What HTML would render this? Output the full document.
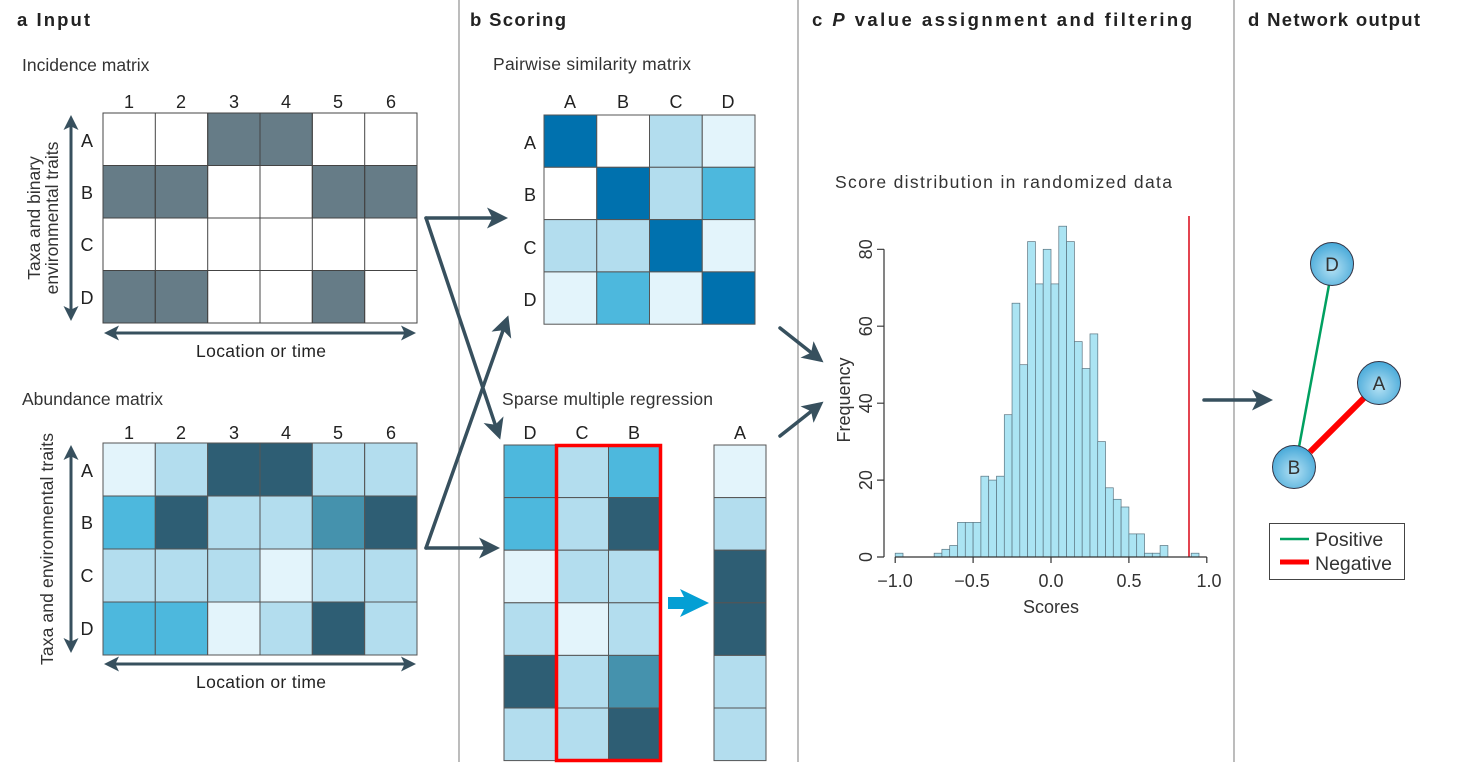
<!DOCTYPE html>
<html><head><meta charset="utf-8"><style>
html,body{margin:0;padding:0;background:#fff}
svg{display:block;font-family:"Liberation Sans",sans-serif}
</style></head><body>
<svg width="1470" height="782" viewBox="0 0 1470 782" xmlns="http://www.w3.org/2000/svg">
<defs>
<marker id="ah" markerWidth="6" markerHeight="6" refX="4" refY="3" orient="auto" markerUnits="strokeWidth"><path d="M0,0 L6,3 L0,6 L1.5,3 z" fill="#37505e"/></marker>
<marker id="ah2" markerWidth="5" markerHeight="5" refX="3" refY="2.5" orient="auto-start-reverse" markerUnits="strokeWidth"><path d="M0,0 L5,2.5 L0,5 L1.2,2.5 z" fill="#37505e"/></marker>
<radialGradient id="nd" cx="0.5" cy="0.6" r="0.6"><stop offset="0" stop-color="#b4e1f4"/><stop offset="1" stop-color="#45a8d8"/></radialGradient>
</defs>
<g stroke="#999" stroke-width="1.3"><line x1="459" y1="0" x2="459" y2="762"/><line x1="798" y1="0" x2="798" y2="762"/><line x1="1234" y1="0" x2="1234" y2="762"/></g>
<g font-weight="bold" font-size="18.5" fill="#222">
<text x="17" y="26" textLength="73">a  Input</text><text x="470" y="26" textLength="96">b  Scoring</text>
<text x="812" y="26" textLength="380">c  <tspan font-style="italic">P</tspan> value assignment and filtering</text>
<text x="1248" y="26" textLength="172">d  Network output</text></g>
<g font-size="17.5" fill="#333">
<text x="22" y="71">Incidence matrix</text><text x="22" y="405">Abundance matrix</text>
<text x="493" y="70" textLength="198">Pairwise similarity matrix</text><text x="502" y="405" textLength="211">Sparse multiple regression</text>
<text x="835" y="188" textLength="337">Score distribution in randomized data</text>
</g>
<g stroke="#444" stroke-width="1">
<rect x="103" y="113" width="314" height="210" fill="#fff"/>
<g fill="#667c87">
<rect x="207.7" y="113" width="52.3" height="52.5"/><rect x="260" y="113" width="52.3" height="52.5"/>
<rect x="103" y="165.5" width="52.3" height="52.5"/><rect x="155.3" y="165.5" width="52.3" height="52.5"/><rect x="312.3" y="165.5" width="52.3" height="52.5"/><rect x="364.7" y="165.5" width="52.3" height="52.5"/>
<rect x="103" y="270.5" width="52.3" height="52.5"/><rect x="155.3" y="270.5" width="52.3" height="52.5"/><rect x="312.3" y="270.5" width="52.3" height="52.5"/>
</g>
<path d="M155.3,113V323M207.7,113V323M260,113V323M312.3,113V323M364.7,113V323M103,165.5H417M103,218H417M103,270.5H417" fill="none"/>
</g>
<g font-size="18" fill="#222" text-anchor="middle">
<text x="129" y="108">1</text><text x="181" y="108">2</text><text x="234" y="108">3</text><text x="286" y="108">4</text><text x="338" y="108">5</text><text x="391" y="108">6</text>
<text x="87" y="147">A</text><text x="87" y="199">B</text><text x="87" y="251">C</text><text x="87" y="304">D</text>
<text x="129" y="439">1</text><text x="181" y="439">2</text><text x="234" y="439">3</text><text x="286" y="439">4</text><text x="338" y="439">5</text><text x="391" y="439">6</text>
<text x="87" y="477">A</text><text x="87" y="529">B</text><text x="87" y="582">C</text><text x="87" y="635">D</text>
<text x="570" y="108">A</text><text x="623" y="108">B</text><text x="676" y="108">C</text><text x="728" y="108">D</text>
<text x="530" y="149">A</text><text x="530" y="201">B</text><text x="530" y="254">C</text><text x="530" y="306">D</text>
<text x="530" y="439">D</text><text x="582" y="439">C</text><text x="634" y="439">B</text><text x="740" y="439">A</text>
<text x="261" y="357" font-size="17.5" textLength="130">Location or time</text><text x="261" y="688" font-size="17.5" textLength="130">Location or time</text>
</g>
<g font-size="17.5" fill="#333" text-anchor="middle">
<text transform="translate(40,218) rotate(-90)">Taxa and binary</text>
<text transform="translate(58,218) rotate(-90)">environmental traits</text>
<text transform="translate(53,549) rotate(-90)" textLength="232">Taxa and environmental traits</text>
</g>
<g stroke="#37505e" stroke-width="3" fill="none">
<line x1="71" y1="121" x2="71" y2="315" marker-start="url(#ah2)" marker-end="url(#ah2)"/>
<line x1="110" y1="333" x2="410" y2="333" marker-start="url(#ah2)" marker-end="url(#ah2)"/>
<line x1="71" y1="451" x2="71" y2="647" marker-start="url(#ah2)" marker-end="url(#ah2)"/>
<line x1="110" y1="664" x2="410" y2="664" marker-start="url(#ah2)" marker-end="url(#ah2)"/>
</g>
<g stroke="#555" stroke-width="1">
<rect x="103" y="443" width="52.3" height="53" fill="#e3f4fb"/><rect x="155.3" y="443" width="52.3" height="53" fill="#b3ddee"/><rect x="207.7" y="443" width="52.3" height="53" fill="#2e5e74"/><rect x="260" y="443" width="52.3" height="53" fill="#2e5e74"/><rect x="312.3" y="443" width="52.3" height="53" fill="#b3ddee"/><rect x="364.7" y="443" width="52.3" height="53" fill="#b3ddee"/>
<rect x="103" y="496" width="52.3" height="53" fill="#4db8dd"/><rect x="155.3" y="496" width="52.3" height="53" fill="#2e5e74"/><rect x="207.7" y="496" width="52.3" height="53" fill="#b3ddee"/><rect x="260" y="496" width="52.3" height="53" fill="#b3ddee"/><rect x="312.3" y="496" width="52.3" height="53" fill="#4592ad"/><rect x="364.7" y="496" width="52.3" height="53" fill="#2e5e74"/>
<rect x="103" y="549" width="52.3" height="53" fill="#b3ddee"/><rect x="155.3" y="549" width="52.3" height="53" fill="#b3ddee"/><rect x="207.7" y="549" width="52.3" height="53" fill="#b3ddee"/><rect x="260" y="549" width="52.3" height="53" fill="#e3f4fb"/><rect x="312.3" y="549" width="52.3" height="53" fill="#b3ddee"/><rect x="364.7" y="549" width="52.3" height="53" fill="#b3ddee"/>
<rect x="103" y="602" width="52.3" height="53" fill="#4db8dd"/><rect x="155.3" y="602" width="52.3" height="53" fill="#4db8dd"/><rect x="207.7" y="602" width="52.3" height="53" fill="#e3f4fb"/><rect x="260" y="602" width="52.3" height="53" fill="#b3ddee"/><rect x="312.3" y="602" width="52.3" height="53" fill="#2e5e74"/><rect x="364.7" y="602" width="52.3" height="53" fill="#b3ddee"/>
</g>
<g stroke="#555" stroke-width="1">
<rect x="544" y="115" width="52.75" height="52.3" fill="#0071ae"/><rect x="596.75" y="115" width="52.75" height="52.3" fill="#fff"/><rect x="649.5" y="115" width="52.75" height="52.3" fill="#b3ddee"/><rect x="702.25" y="115" width="52.75" height="52.3" fill="#e3f4fb"/>
<rect x="544" y="167.3" width="52.75" height="52.3" fill="#fff"/><rect x="596.75" y="167.3" width="52.75" height="52.3" fill="#0071ae"/><rect x="649.5" y="167.3" width="52.75" height="52.3" fill="#b3ddee"/><rect x="702.25" y="167.3" width="52.75" height="52.3" fill="#4db8dd"/>
<rect x="544" y="219.6" width="52.75" height="52.3" fill="#b3ddee"/><rect x="596.75" y="219.6" width="52.75" height="52.3" fill="#b3ddee"/><rect x="649.5" y="219.6" width="52.75" height="52.3" fill="#0071ae"/><rect x="702.25" y="219.6" width="52.75" height="52.3" fill="#e3f4fb"/>
<rect x="544" y="271.9" width="52.75" height="52.3" fill="#e3f4fb"/><rect x="596.75" y="271.9" width="52.75" height="52.3" fill="#4db8dd"/><rect x="649.5" y="271.9" width="52.75" height="52.3" fill="#e3f4fb"/><rect x="702.25" y="271.9" width="52.75" height="52.3" fill="#0071ae"/>
</g>
<g stroke="#555" stroke-width="1">
<rect x="504" y="445" width="51.5" height="52.6" fill="#4db8dd"/><rect x="504" y="497.6" width="51.5" height="52.6" fill="#4db8dd"/><rect x="504" y="550.2" width="51.5" height="52.6" fill="#e3f4fb"/><rect x="504" y="602.8" width="51.5" height="52.6" fill="#b3ddee"/><rect x="504" y="655.4" width="51.5" height="52.6" fill="#2e5e74"/><rect x="504" y="708" width="51.5" height="52.6" fill="#b3ddee"/>
<rect x="555.5" y="445" width="53" height="52.6" fill="#b3ddee"/><rect x="555.5" y="497.6" width="53" height="52.6" fill="#b3ddee"/><rect x="555.5" y="550.2" width="53" height="52.6" fill="#b3ddee"/><rect x="555.5" y="602.8" width="53" height="52.6" fill="#e3f4fb"/><rect x="555.5" y="655.4" width="53" height="52.6" fill="#b3ddee"/><rect x="555.5" y="708" width="53" height="52.6" fill="#b3ddee"/>
<rect x="608.5" y="445" width="52" height="52.6" fill="#4db8dd"/><rect x="608.5" y="497.6" width="52" height="52.6" fill="#2e5e74"/><rect x="608.5" y="550.2" width="52" height="52.6" fill="#b3ddee"/><rect x="608.5" y="602.8" width="52" height="52.6" fill="#b3ddee"/><rect x="608.5" y="655.4" width="52" height="52.6" fill="#4592ad"/><rect x="608.5" y="708" width="52" height="52.6" fill="#2e5e74"/>
<rect x="714" y="445" width="52" height="52.6" fill="#e3f4fb"/><rect x="714" y="497.6" width="52" height="52.6" fill="#b3ddee"/><rect x="714" y="550.2" width="52" height="52.6" fill="#2e5e74"/><rect x="714" y="602.8" width="52" height="52.6" fill="#2e5e74"/><rect x="714" y="655.4" width="52" height="52.6" fill="#b3ddee"/><rect x="714" y="708" width="52" height="52.6" fill="#b3ddee"/>
</g>
<rect x="556.5" y="445.5" width="104" height="315" fill="none" stroke="#f00" stroke-width="3.5"/>
<path d="M668,597 L684,597 L680,589 L709,603 L680,617 L684,609 L668,609 Z" fill="#049fd4"/>
<g stroke="#37505e" stroke-width="3.5" fill="none" stroke-linecap="round">
<polyline points="426,218 501,218" marker-end="url(#ah)"/>
<line x1="426" y1="218" x2="498" y2="433" marker-end="url(#ah)"/>
<line x1="426" y1="548" x2="506" y2="322" marker-end="url(#ah)"/>
<line x1="426" y1="548" x2="493" y2="548" marker-end="url(#ah)"/>
<line x1="780" y1="328" x2="818" y2="358" marker-end="url(#ah)"/>
<line x1="780" y1="436" x2="818" y2="406" marker-end="url(#ah)"/>
<line x1="1204" y1="400" x2="1266" y2="400" marker-end="url(#ah)"/>
</g>
<g fill="#abe4f3" stroke="#5a7480" stroke-width="0.7">
<rect x="895.2" y="553.2" width="7.8" height="3.8"/>
<rect x="934.15" y="553.2" width="7.8" height="3.8"/>
<rect x="941.9" y="549.3" width="7.8" height="7.7"/>
<rect x="949.7" y="545.5" width="7.8" height="11.5"/>
<rect x="957.5" y="522.4" width="7.8" height="34.6"/>
<rect x="965.3" y="522.4" width="7.8" height="34.6"/>
<rect x="973.1" y="522.4" width="7.8" height="34.6"/>
<rect x="980.9" y="476.2" width="7.8" height="80.8"/>
<rect x="988.7" y="480.1" width="7.8" height="76.9"/>
<rect x="996.5" y="476.2" width="7.8" height="80.8"/>
<rect x="1004.3" y="414.7" width="7.8" height="142.3"/>
<rect x="1012.05" y="303.2" width="7.8" height="253.8"/>
<rect x="1019.8" y="364.7" width="7.8" height="192.3"/>
<rect x="1027.6" y="241.6" width="7.8" height="315.4"/>
<rect x="1035.4" y="283.9" width="7.8" height="273.1"/>
<rect x="1043.2" y="249.3" width="7.8" height="307.7"/>
<rect x="1051" y="283.9" width="7.8" height="273.1"/>
<rect x="1058.8" y="226.2" width="7.8" height="330.8"/>
<rect x="1066.6" y="241.6" width="7.8" height="315.4"/>
<rect x="1074.4" y="341.6" width="7.8" height="215.4"/>
<rect x="1082.2" y="368.5" width="7.8" height="188.5"/>
<rect x="1090" y="333.9" width="7.8" height="223.1"/>
<rect x="1097.7" y="441.6" width="7.8" height="115.4"/>
<rect x="1105.5" y="487.8" width="7.8" height="69.2"/>
<rect x="1113.3" y="499.3" width="7.8" height="57.7"/>
<rect x="1121.1" y="507" width="7.8" height="50"/>
<rect x="1128.9" y="533.9" width="7.8" height="23.1"/>
<rect x="1136.7" y="533.9" width="7.8" height="23.1"/>
<rect x="1144.5" y="553.2" width="7.8" height="3.8"/>
<rect x="1152.3" y="553.2" width="7.8" height="3.8"/>
<rect x="1160.1" y="545.5" width="7.8" height="11.5"/>
<rect x="1191.2" y="553.2" width="7.8" height="3.8"/>
</g>
<line x1="1189" y1="216" x2="1189" y2="557" stroke="#e0303c" stroke-width="1.8"/>
<g stroke="#333" stroke-width="1.2" fill="none">
<path d="M884,249.3V557M877,557H884M877,480.1H884M877,403.2H884M877,326.2H884M877,249.3H884"/>
<path d="M895.2,557H1206.8M895.2,557V563M973.1,557V563M1051,557V563M1128.9,557V563M1206.8,557V563"/>
</g>
<g font-size="18" fill="#333" text-anchor="middle">
<text transform="translate(872,557) rotate(-90)">0</text>
<text transform="translate(872,480.1) rotate(-90)">20</text>
<text transform="translate(872,403.2) rotate(-90)">40</text>
<text transform="translate(872,326.2) rotate(-90)">60</text>
<text transform="translate(872,249.3) rotate(-90)">80</text>
<text transform="translate(850,400) rotate(-90)">Frequency</text>
<text x="895" y="587">−1.0</text><text x="972" y="587">−0.5</text><text x="1051" y="587">0.0</text><text x="1129" y="587">0.5</text><text x="1209" y="587">1.0</text>
<text x="1051" y="613">Scores</text>
</g>
<line x1="1329" y1="285" x2="1299" y2="447" stroke="#00a060" stroke-width="2.5"/>
<line x1="1364" y1="398" x2="1310" y2="452" stroke="#f00" stroke-width="6"/>
<g stroke="#334" stroke-width="1" fill="url(#nd)">
<circle cx="1332" cy="264" r="21.5"/><circle cx="1379" cy="383" r="21.5"/><circle cx="1294" cy="467" r="21.5"/></g>
<g font-size="19" fill="#333" text-anchor="middle">
<text x="1332" y="271">D</text><text x="1379" y="390">A</text><text x="1294" y="474">B</text></g>
<rect x="1269.5" y="523.5" width="135" height="56" fill="#fff" stroke="#444" stroke-width="1"/>
<line x1="1280" y1="539" x2="1309" y2="539" stroke="#00a060" stroke-width="2.5"/>
<line x1="1280" y1="562" x2="1309" y2="562" stroke="#f00" stroke-width="5"/>
<g font-size="19.5" fill="#333"><text x="1315" y="546">Positive</text><text x="1315" y="570">Negative</text></g>
</svg>
</body></html>
